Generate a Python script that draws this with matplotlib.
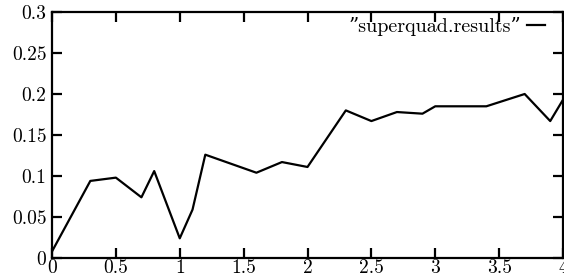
import matplotlib
matplotlib.use("Agg")
import matplotlib.pyplot as plt

x = [0.0, 0.3, 0.5, 0.7, 0.8, 1.0, 1.1, 1.2, 1.6, 1.8, 2.0, 2.3, 2.5,
     2.7, 2.9, 3.0, 3.4, 3.5, 3.7, 3.9, 4.0]
y = [0.008, 0.094, 0.098, 0.074, 0.106, 0.024, 0.059, 0.126, 0.104,
     0.117, 0.111, 0.180, 0.167, 0.178, 0.176, 0.185, 0.185, 0.190,
     0.200, 0.167, 0.193]
xticks = [0, 0.5, 1, 1.5, 2, 2.5, 3, 3.5, 4]
xticklabels = ["0", "0.5", "1", "1.5", "2", "2.5", "3", "3.5", "4"]
yticks = [0, 0.05, 0.1, 0.15, 0.2, 0.25, 0.3]
yticklabels = ["0", "0.05", "0.1", "0.15", "0.2", "0.25", "0.3"]
label = "\u201dsuperquad.results\u201d"

plt.rcParams["font.family"] = ["cmr10", "DejaVu Serif"]
plt.rcParams["axes.formatter.use_mathtext"] = True

fig = plt.figure(figsize=(5.64, 2.78), dpi=100)
ax = fig.add_axes([52 / 564, 20 / 278, 511 / 564, 246 / 278])
ax.plot(x, y, color="black", lw=1.6, label=label)

ax.set_xlim(0, 4)
ax.set_ylim(0, 0.3)
ax.set_xticks(xticks)
ax.set_xticklabels(xticklabels)
ax.set_yticks(yticks)
ax.set_yticklabels(yticklabels)
ax.tick_params(direction="in", length=7, width=1.6, top=True, right=True,
               labelsize=14, colors="black")
ax.tick_params(axis="y", pad=4)
ax.tick_params(axis="x", pad=1)
for s in ax.spines.values():
    s.set_linewidth(1.6)

# legend: text right of handle, placed near the top right like gnuplot
leg = ax.legend(loc="center right", frameon=False, prop={"size": 14.5},
                handlelength=0.9, handletextpad=0.3, markerfirst=False,
                borderpad=0, borderaxespad=0,
                bbox_to_anchor=((545 - 52) / 511, (258 - 27) / 246))

fig.savefig("out.png", dpi=100)
